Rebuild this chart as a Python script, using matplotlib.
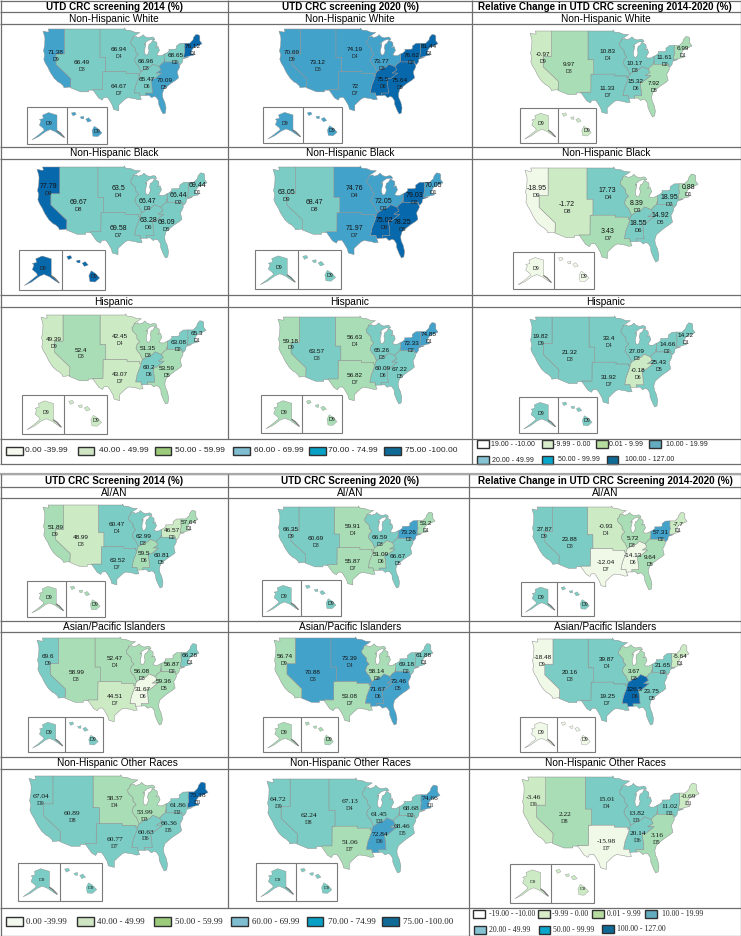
import matplotlib
matplotlib.use("Agg")
import matplotlib.pyplot as plt
from matplotlib.patches import Polygon, Rectangle
import numpy as np

W, H = 741, 936
SANS = "Liberation Sans"
SERIF = "Liberation Serif"

# ---------------- data (order D1 ... D9) ----------------
divisions = ["D1", "D2", "D3", "D4", "D5", "D6", "D7", "D8", "D9"]
nhw_2014 = [76.12, 68.65, 66.96, 66.94, 70.09, 65.47, 64.67, 66.49, 71.38]
nhw_2020 = [81.44, 76.62, 73.77, 74.19, 75.64, 75.5, 72, 73.12, 70.69]
nhw_chg = [6.99, 11.61, 10.17, 10.83, 7.92, 15.32, 11.33, 9.97, -0.97]
nhb_2014 = [69.44, 66.44, 66.47, 63.5, 68.09, 63.28, 69.58, 69.67, 77.79]
nhb_2020 = [70.05, 79.03, 72.05, 74.76, 78.25, 75.02, 71.97, 68.47, 63.05]
nhb_chg = [0.88, 18.95, 8.39, 17.73, 14.92, 18.55, 3.43, -1.72, -18.95]
his_2014 = [65.3, 63.08, 51.35, 42.45, 53.59, 60.2, 43.07, 52.4, 49.39]
his_2020 = [74.85, 72.33, 65.26, 56.63, 67.22, 60.09, 56.82, 63.57, 59.18]
his_chg = [14.22, 14.66, 27.09, 33.4, 25.43, -0.18, 31.92, 21.32, 19.82]
aian_2014 = [57.64, 46.57, 62.99, 60.47, 60.81, 59.5, 63.52, 48.99, 51.89]
aian_2020 = [53.2, 73.26, 66.59, 59.91, 66.67, 51.09, 55.87, 60.69, 66.35]
aian_chg = [-7.7, 57.31, 5.72, -0.93, 9.64, -14.13, -12.04, 23.88, 27.87]
api_2014 = [66.28, 56.87, 56.08, 52.47, 59.36, 31.67, 44.51, 58.99, 69.6]
api_2020 = [61.88, 69.18, 58.14, 73.39, 73.46, 71.67, 53.08, 70.88, 56.74]
api_chg = [-5.64, 21.65, 3.67, 39.87, 23.75, 126.3, 19.25, 20.16, -18.48]
nho_2014 = [75.18, 61.86, 53.99, 58.37, 66.36, 60.63, 60.77, 60.89, 67.04]
nho_2020 = [74.66, 68.68, 61.45, 67.13, 68.46, 72.84, 51.06, 62.24, 64.72]
nho_chg = [-0.69, 11.02, 13.82, 15.01, 3.16, 20.14, -15.98, 2.22, -3.46]

groups = ["Non-Hispanic White", "Non-Hispanic Black", "Hispanic", "AI/AN",
          "Asian/Pacific Islanders", "Non-Hispanic Other Races"]
table = [nhw_2014, nhw_2020, nhw_chg, nhb_2014, nhb_2020, nhb_chg,
         his_2014, his_2020, his_chg, aian_2014, aian_2020, aian_chg,
         api_2014, api_2020, api_chg, nho_2014, nho_2020, nho_chg]

level_edges = [40, 50, 60, 70, 75]
change_edges = [-10, 0, 10, 50, 100]
level_colors = ["#f0f9e8", "#ccebc5", "#a8ddb5", "#7bccc4", "#43a2ca", "#0868ac"]
change_colors = ["#f0f9e8", "#ccebc5", "#a8ddb5", "#7bccc4", "#43a2ca", "#0868ac"]

level_labels = ["0.00 -39.99", "40.00 - 49.99", "50.00 - 59.99", "60.00 - 69.99",
                "70.00 - 74.99", "75.00 -100.00"]
level_key = ["#f3f9ee", "#cfe5c4", "#9ccb7c", "#7fbdd1", "#09a0c6", "#0f6a95"]
change_labels_a = ["19.00 - -10.00", "-9.99 - 0.00", "0.01 - 9.99", "10.00 - 19.99",
                   "20.00 - 49.99", "50.00 - 99.99", "100.00 - 127.00"]
change_labels_b = ["-19.00 - -10.00", "-9.99 - 0.00", "0.01 - 9.99", "10.00 - 19.99",
                   "20.00 - 49.99", "50.00 - 99.99", "100.00 - 127.00"]
change_key = ["#ffffff", "#d9ecc9", "#b7dca0", "#63acc0", "#85c3d3", "#09a6cc", "#0f6a95"]

# ---------------- geography (lon, lat) ----------------
shapes = {
 "D9": [(-122.8,49),(-122.5,48.2),(-123.2,48.15),(-124.7,48.4),(-124.1,46.9),(-124.0,46.2),(-124.1,44.5),
        (-124.5,42.8),(-124.1,41.8),(-124.4,40.4),(-123.8,39.3),(-122.9,38.2),(-122.5,37.5),(-121.9,36.6),
        (-120.6,35.1),(-119.2,34.1),(-118.4,33.8),(-117.3,33.0),(-117.1,32.5),(-114.7,32.7),(-114.6,35.0),
        (-120.0,39.0),(-120.0,42.0),(-117.0,42.0),(-117.0,49.0)],
 "D8": [(-117,49),(-104.05,49),(-104.05,41.0),(-102.05,41.0),(-102.05,37.0),(-103.0,37.0),(-103.05,32.0),
        (-106.6,32.0),(-106.5,31.8),(-108.2,31.8),(-108.2,31.33),(-111.07,31.33),(-114.8,32.5),(-114.7,32.7),
        (-114.6,35.0),(-120.0,39.0),(-120.0,42.0),(-117.0,42.0)],
 "D7": [(-103.0,37),(-94.62,37),(-94.62,36.5),(-90.15,36.5),(-90.3,36.0),(-89.7,36.0),(-90.1,35.0),(-91.1,33.0),
        (-91.6,31.0),(-89.75,31.0),(-89.6,30.2),(-89.4,30.0),(-89.0,29.2),(-90.2,29.1),(-91.3,29.4),(-93.8,29.7),
        (-94.7,29.4),(-96.0,28.5),(-97.2,27.6),(-97.2,26.0),(-99.1,26.4),(-99.5,27.5),(-100.7,29.1),(-101.4,29.8),
        (-102.7,29.7),(-103.2,29.0),(-104.5,29.6),(-106.5,31.8),(-106.6,32.0),(-103.05,32.0)],
 "D4": [(-104.05,49),(-95.15,49),(-95.15,49.3),(-94.6,48.7),(-93.0,48.6),(-91.4,48.1),(-89.6,48.0),(-92.1,46.75),
        (-92.3,46.1),(-92.9,45.6),(-92.8,44.8),(-91.2,43.5),(-91.2,42.7),(-90.2,41.8),(-91.1,41.2),(-91.4,40.4),
        (-91.5,40.0),(-90.7,39.0),(-90.2,38.7),(-89.2,37.0),(-89.5,36.5),(-89.7,36.0),(-90.3,36.0),(-90.15,36.5),
        (-94.62,36.5),(-94.62,37),(-102.05,37),(-102.05,41),(-104.05,41)],
 "D3": [(-92.1,46.75),(-90.8,46.9),(-90.4,46.55),(-89.0,46.9),(-88.4,47.4),(-87.6,46.8),(-86.5,46.5),(-85,46.75),
        (-84.4,46.5),(-84.1,46.0),(-84.8,45.95),(-85.5,46.05),(-86.5,45.8),(-87.6,45.1),(-88.0,44.55),(-87.4,44.9),
        (-87.5,44.2),(-87.9,43.0),(-87.8,42.3),(-87.5,41.7),(-87.0,41.7),(-86.5,42.1),(-86.2,43.0),(-86.5,43.7),
        (-86.2,44.7),(-85.5,45.0),(-85.0,45.7),(-84.7,45.8),(-83.4,45.2),(-83.3,44.3),(-83.9,43.8),(-82.9,44.05),
        (-82.45,43.0),(-82.9,42.4),(-83.4,41.75),(-82.7,41.5),(-81.7,41.5),(-80.52,42.0),(-80.52,40.64),(-80.8,39.7),
        (-81.7,39.2),(-82.6,38.4),(-84.8,39.1),(-85.8,38.3),(-87.5,37.9),(-88.1,37.5),(-89.2,37.0),(-90.2,38.7),
        (-90.7,39),(-91.5,40),(-91.4,40.4),(-91.1,41.2),(-90.2,41.8),(-91.2,42.7),(-91.2,43.5),(-92.8,44.8),
        (-92.9,45.6),(-92.3,46.1)],
 "D6": [(-89.5,36.5),(-89.2,37),(-88.1,37.5),(-87.5,37.9),(-85.8,38.3),(-84.8,39.1),(-82.6,38.4),(-81.97,37.5),
        (-83.7,36.6),(-81.7,36.6),(-84.3,35.0),(-85.6,35.0),(-85.2,32.9),(-85.0,31.0),(-87.6,31.0),(-87.5,30.3),
        (-88.4,30.3),(-89.6,30.2),(-89.75,31),(-91.6,31),(-91.1,33),(-90.1,35),(-89.7,36)],
 "D5": [(-80.52,40.64),(-80.52,39.72),(-75.79,39.72),(-75.4,39.8),(-75.55,39.5),(-75.1,38.8),(-75.05,38.4),
        (-75.6,37.5),(-76.0,37.0),(-75.9,36.6),(-75.5,35.25),(-76.5,34.6),(-77.9,33.9),(-79.1,33.2),(-80.9,32.0),
        (-81.4,30.7),(-81.2,29.6),(-80.5,28.4),(-80.05,26.8),(-80.3,25.4),(-81.1,25.1),(-81.8,26.1),(-82.7,27.8),
        (-82.8,28.9),(-83.6,29.8),(-84.3,30.05),(-85.3,29.7),(-86.3,30.4),(-87.5,30.3),(-87.6,31),(-85,31),
        (-85.2,32.9),(-85.6,35),(-84.3,35),(-81.7,36.6),(-83.7,36.6),(-81.97,37.5),(-82.6,38.4),(-81.7,39.2),(-80.8,39.7)],
 "D2": [(-80.52,39.72),(-80.52,42),(-79.76,42.27),(-78.9,42.85),(-79.05,43.27),(-76.8,43.3),(-76.2,43.55),(-76.3,44.2),
        (-75,44.95),(-73.35,45.0),(-73.4,43.6),(-73.25,42.75),(-73.5,42.05),(-73.65,41.0),(-72.0,41.05),(-73.9,40.55),
        (-74.0,40.4),(-74.1,39.7),(-74.9,38.95),(-75.4,39.4),(-75.55,39.65),(-75.4,39.8),(-75.79,39.72)],
 "D1": [(-73.35,45),(-71.5,45),(-71.1,45.3),(-70.3,45.9),(-70.0,46.7),(-69.2,47.45),(-68.3,47.35),(-67.8,47.05),
        (-67.8,45.7),(-67,44.85),(-68.5,44.3),(-70,43.8),(-70.7,43.05),(-70.8,42.6),(-71,42.3),(-70.6,41.95),
        (-70.0,42.05),(-70,41.65),(-71.1,41.5),(-71.9,41.3),(-73.65,41.0),(-73.5,42.05),(-73.25,42.75),(-73.4,43.6)],
}
alaska = [(.39,.22),(.54,.15),(.75,.22),(.75,.64),(.83,.70),(.93,.82),(.87,.79),(.71,.67),(.58,.61),(.47,.66),
          (.29,.80),(.12,.89),(.27,.77),(.43,.63),(.41,.58),(.31,.49),(.35,.375),(.31,.34),(.41,.31)]
panhandle = [(.75,.64),(.83,.70),(.93,.82)]
hawaii = [[(.68,.52),(.77,.58),(.875,.70),(.77,.80),(.65,.79),(.625,.64)],
          [(.47,.33),(.54,.29),(.61,.375),(.52,.41)],
          [(.33,.27),(.42,.25),(.42,.32),(.36,.32)],
          [(.11,.16),(.2,.14),(.23,.2),(.15,.24)]]
label_anchor = {"D1": (-70.3,44.1), "D2": (-76.7,41.6), "D3": (-87.3,39.9), "D4": (-97.1,43.3),
                "D5": (-80.7,34.5), "D6": (-87.0,34.9), "D7": (-97.1,32.9), "D8": (-110.7,39.6), "D9": (-120.1,42.4)}
# panels (by index in table) whose labels sit elsewhere than the usual anchor
d9_high = {3, 5, 8, 12, 13, 14, 15, 16, 17}
d5_high = {5, 8, 12, 13, 15, 16}

# ---------------- layout in reference pixels ----------------
map_boxes = [(43,202,29,114),(279,438,29,114),(530,692,31,117),
             (37,207,167,258),(273,443,167,258),(525,698,168,262),
             (41,206,315,404),(278,438,317,404),(530,695,317,407),
             (43,198,505,588),(278,435,507,588),(532,687,507,590),
             (37,199,638,725),(274,433,638,725),(532,689,639,725),
             (29,208,776,871),(267,440,779,873),(522,699,777,873)]
inset_boxes = [(27,107,107,144,67),(263,342,107,143,303),(520,596,108,143,558),
               (19,105,250,290,62),(255,341,250,289,298),(513,594,252,289,554),
               (22,107,395,434,64),(261,342,395,433,302),(519,597,397,433,558),
               (27,105,581,617,66),(262,341,580,616,301),(521,594,582,616,557),
               (28,103,717,752,65),(263,338,717,752,301),(520,595,717,752,557),
               (18,102,863,901,60),(256,337,863,901,296),(510,594,864,903,551)]

GRID = "#6e6e6e"
fig = plt.figure(figsize=(W/100, H/100), dpi=100, facecolor="white")
bg = fig.add_axes([0, 0, 1, 1])
bg.set_xlim(0, W); bg.set_ylim(H, 0); bg.axis("off")

def subaxes(x0, x1, y0, y1):
    ax = fig.add_axes([x0/W, 1-y1/H, (x1-x0)/W, (y1-y0)/H])
    ax.axis("off"); ax.patch.set_alpha(0)
    return ax

def hl(y, x0=0, x1=W, lw=0.9, c=GRID):
    bg.plot([x0, x1], [y, y], color=c, lw=lw, solid_capstyle="butt")
def vl(x, y0, y1, lw=0.9, c=GRID):
    bg.plot([x, x], [y0, y1], color=c, lw=lw, solid_capstyle="butt")

# table rules
for y in [0.5, 12, 24, 147, 159, 295, 307, 439, 464]:
    hl(y)
for y in [474, 487, 498, 621, 632, 757, 769, 908, 935.5]:
    hl(y)
hl(474, lw=1.6, c="#a8a8a8")
for x, (a, b) in [(228, (0, 439)), (472, (0, 464)), (227.5, (474, 908)), (469, (474, 935.5))]:
    vl(x, a, b)
for x in [0.5, 740.5]:
    vl(x, 0, 464); vl(x, 474, 935.5)

# headers
heads = [("UTD CRC screening 2014 (%)", 114, 7), ("UTD CRC screening 2020 (%)", 350, 7),
         ("Relative Change in UTD CRC screening 2014-2020 (%)", 605, 7),
         ("UTD CRC Screening 2014 (%)", 114, 481), ("UTD CRC Screening 2020 (%)", 350, 481),
         ("Relative Change in UTD CRC Screening 2014-2020 (%)", 605, 481)]
for s, x, y in heads:
    bg.text(x, y, s, ha="center", va="center", family=SANS, weight="bold", fontsize=7.15, color="black")
row_y = [18.5, 153, 302, 493, 627, 763]
col_x = [[114, 350, 606], [114, 350, 606], [114, 350, 606], [114, 350, 605], [114, 350, 605], [117, 350, 605]]
for g, y, xs in zip(groups, row_y, col_x):
    for x in xs:
        bg.text(x, y, g, ha="center", va="center", family=SANS, fontsize=7.3, color="black")

# maps
for i, vals in enumerate(table):
    row, col = divmod(i, 3)
    is_change = col == 2
    edges = change_edges if is_change else level_edges
    cols = change_colors if is_change else level_colors
    color_of = {d: cols[int(np.digitize(v, edges))] for d, v in zip(divisions, vals)}
    font = SERIF if row == 5 else SANS
    vsize = {1: 5.0, 5: 5.3}.get(row, 4.6)
    x0, x1, y0, y1 = map_boxes[i]
    ax = subaxes(x0, x1, y0, y1)
    ax.set_xlim(-124.7, -67.0); ax.set_ylim(25.1, 49.0)
    for d in divisions:
        ax.add_patch(Polygon(shapes[d], closed=True, facecolor=color_of[d], edgecolor="#8f8f8f",
                             lw=0.35, joinstyle="round", clip_on=False))
    for d, v in zip(divisions, vals):
        lon, lat = label_anchor[d]
        if d == "D9" and i in d9_high:
            lon, lat = -120.9, 43.8
        if d == "D5" and i in d5_high:
            lon, lat = -79.6, 37.0
        ax.annotate(f"{v:g}", (lon, lat), xytext=(0, 0), textcoords="offset points", ha="center", va="center",
                    family=font, fontsize=vsize, color="#111111", annotation_clip=False)
        ax.annotate(d, (lon, lat), xytext=(0, -5), textcoords="offset points", ha="center", va="center",
                    family=font, fontsize=vsize-0.8, color="#222222", annotation_clip=False)
    # insets
    bx0, bx1, by0, by1, bdiv = inset_boxes[i]
    bg.add_patch(Rectangle((bx0, by0), bx1-bx0, by1-by0, fill=False, edgecolor="#7a7a7a", lw=0.8))
    vl(bdiv, by0, by1, lw=0.8, c="#7a7a7a")
    d9c = color_of["D9"]
    axa = subaxes(bx0, bdiv, by0, by1); axa.set_xlim(0, 1); axa.set_ylim(1, 0)
    axa.add_patch(Polygon(alaska, closed=True, facecolor=d9c, edgecolor="#8f8f8f", lw=0.3))
    axa.plot(*zip(*panhandle), color="#777777", lw=0.9, solid_capstyle="round")
    axa.text(.56, .45, "D9", ha="center", va="center", family=font, fontsize=3.8, color="#222222")
    axh = subaxes(bdiv, bx1, by0, by1); axh.set_xlim(0, 1); axh.set_ylim(1, 0)
    for p in hawaii:
        axh.add_patch(Polygon(p, closed=True, facecolor=d9c, edgecolor="#8f8f8f", lw=0.25))
    axh.text(.75, .65, "D9", ha="center", va="center", family=font, fontsize=3.8, color="#222222")

# legends
def swatch(x0, x1, y0, y1, c, lw=1.0):
    bg.add_patch(Rectangle((x0, y0), x1-x0, y1-y0, facecolor=c, edgecolor="#303030", lw=lw))
def caption(x, y, s, font, size):
    bg.text(x, y, s, ha="left", va="center", family=font, fontsize=size, color="#222222")

pos_a = [(6,23,25),(78,94,99),(155,171,175),(233,250,254),(309,326,328),(384,401,405)]
for (a, b, t), c, s in zip(pos_a, level_key, level_labels):
    swatch(a, b, 447, 455, c); caption(t, 451, s, SANS, 6.0)
pos_b = [(6,23,26),(77,94,97),(154,171,175),(231,248,252),(307,323,328),(382,399,403)]
for (a, b, t), c, s in zip(pos_b, level_key, level_labels):
    swatch(a, b, 917, 925.5, c); caption(t, 921.5, s, SERIF, 6.4)

pos_c = [(477,489,491,440,448),(542,553,554,440,448),(596,608,609,440,448),(649,661,666,440,448),
         (477,489,492,456,464),(542,553,558,456,463.5),(607,618,625,456,463.5)]
for (a, b, t, y0, y1), c, s in zip(pos_c, change_key, change_labels_a):
    swatch(a, b, y0, y1, c); caption(t, (y0+y1)/2, s, SANS, 5.0)
pos_d = [(473,485,489,910,918),(538,550,552,910,918),(592,604,607,910,918),(645,657,662,910,918),
         (474,486,489,926,934),(539,550,553,926,934),(602,614,617,925,933)]
for (a, b, t, y0, y1), c, s in zip(pos_d, change_key, change_labels_b):
    swatch(a, b, y0, y1, c); caption(t, (y0+y1)/2, s, SERIF, 5.6)

fig.savefig("out.png", dpi=100, facecolor="white")
